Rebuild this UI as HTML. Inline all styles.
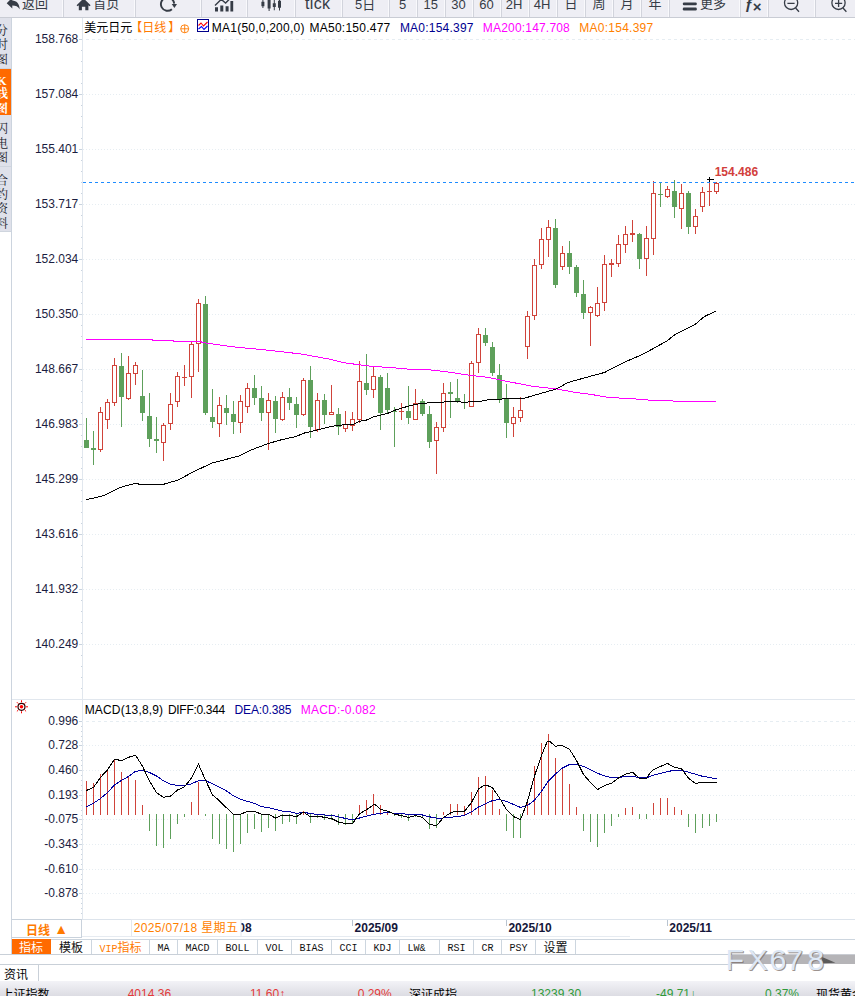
<!DOCTYPE html>
<html lang="zh-CN"><head><meta charset="utf-8"><title>美元日元 日线</title><style>
*{margin:0;padding:0;box-sizing:border-box}
html,body{width:855px;height:996px;overflow:hidden;background:#fff}
body{position:relative;font-family:"Liberation Sans","Noto Sans CJK SC",sans-serif;font-size:12px;color:#000}
#app{position:absolute;left:0;top:0;width:855px;height:996px;overflow:hidden;background:#fff}
.abs{position:absolute}
/* toolbar */
#toolbar{position:absolute;left:0;top:0;width:855px;height:18px;background:#eeeef4;border-bottom:1px solid #c9ccd4;overflow:hidden}
#toolbar .sep{position:absolute;top:0;width:2px;height:17px;border-left:1px solid #f9f9fc;border-right:1px solid #d2d4dc}
#toolbar .t{position:absolute;top:-6px;line-height:18px;height:18px;font-size:13px;color:#363c46;white-space:nowrap}
#toolbar svg{position:absolute;left:0;top:0}
/* sidebar */
#side{position:absolute;left:0;top:18px;width:12px;height:937px;border-right:1px solid #ccd4de;overflow:hidden;background:#fff}
#side .tab{position:absolute;left:0;width:12px;background:#dfe1ea;border-bottom:1px solid #cfd5de;overflow:hidden}
#side .tab.on{background:#ff6a00;color:#fff;border-bottom:none}
#side .tab span{position:absolute;left:-4px;width:12px;font-size:12px;line-height:12px;height:12px;text-align:center;color:#1a1d2c;font-family:"Liberation Serif","Noto Serif CJK SC",serif}
#side .tab.on span{color:#fff;font-weight:bold}
/* chart */
#chart{position:absolute;left:0;top:0}
#chart text{font-family:"Liberation Sans","Noto Sans CJK SC",sans-serif;font-size:12px}
#chart .yl{fill:#1b1d3f}
#chart .hp{fill:#d2403c;font-weight:bold}
#chart .hd{font-size:12px}
/* bottom */
#period{position:absolute;left:12px;top:919px;width:70px;height:19px;border:1px solid #c9d2dc;border-left:none;color:#ff7a00;font-weight:bold;font-size:12px}
#tabs{position:absolute;left:0;top:939px;width:855px;height:16px;border-bottom:1px solid #c9d0d8}
#tabs .tb{position:absolute;top:0;height:15px;border-right:1px solid #cdd6df;border-top:1px solid #cdd6df;text-align:center;line-height:16px;font-size:12px;color:#111;white-space:nowrap;overflow:hidden}
#tabs .tb.m{font-family:"Liberation Mono",monospace;font-size:10px;letter-spacing:0;line-height:17px}
#tabs .tb .sy{display:inline-block;transform:scaleY(1.16);transform-origin:50% 60%}
#tabs .tb.on{background:#ff6a00;color:#fff;border-color:#ff6a00}
#tabs .tb.vip{color:#ff7a00}
#status{position:absolute;left:0;top:981px;width:855px;height:15px;background:linear-gradient(#f3f3f7,#dcdce3);overflow:hidden}
#status span{position:absolute;top:5.6px;font-size:12px;line-height:14px;white-space:nowrap}
.rd{color:#e23a3a}.gn{color:#2f9a3a}
</style></head><body><div id="app">
<svg id="chart" width="855" height="996" viewBox="0 0 855 996"><line x1="82" y1="39.5" x2="855" y2="39.5" stroke="#e6edf2" stroke-dasharray="3 3" stroke-dashoffset="2"/>
<line x1="83" y1="94.5" x2="855" y2="94.5" stroke="#e6edf2" stroke-dasharray="1 2"/>
<line x1="83" y1="149.5" x2="855" y2="149.5" stroke="#e6edf2" stroke-dasharray="1 2"/>
<line x1="83" y1="204.5" x2="855" y2="204.5" stroke="#e6edf2" stroke-dasharray="1 2"/>
<line x1="83" y1="259.5" x2="855" y2="259.5" stroke="#e6edf2" stroke-dasharray="1 2"/>
<line x1="83" y1="314.5" x2="855" y2="314.5" stroke="#e6edf2" stroke-dasharray="1 2"/>
<line x1="83" y1="369.5" x2="855" y2="369.5" stroke="#e6edf2" stroke-dasharray="1 2"/>
<line x1="83" y1="424.5" x2="855" y2="424.5" stroke="#e6edf2" stroke-dasharray="1 2"/>
<line x1="83" y1="479.5" x2="855" y2="479.5" stroke="#e6edf2" stroke-dasharray="1 2"/>
<line x1="83" y1="534.5" x2="855" y2="534.5" stroke="#e6edf2" stroke-dasharray="1 2"/>
<line x1="83" y1="589.5" x2="855" y2="589.5" stroke="#e6edf2" stroke-dasharray="1 2"/>
<line x1="83" y1="644.5" x2="855" y2="644.5" stroke="#e6edf2" stroke-dasharray="1 2"/>
<line x1="82.5" y1="18" x2="82.5" y2="919" stroke="#e1e7ee"/>
<line x1="79" y1="39.5" x2="82" y2="39.5" stroke="#c9d3de"/>
<line x1="81" y1="50.5" x2="82" y2="50.5" stroke="#c9d3de"/>
<line x1="81" y1="61.5" x2="82" y2="61.5" stroke="#c9d3de"/>
<line x1="81" y1="72.5" x2="82" y2="72.5" stroke="#c9d3de"/>
<line x1="81" y1="83.5" x2="82" y2="83.5" stroke="#c9d3de"/>
<line x1="79" y1="94.5" x2="82" y2="94.5" stroke="#c9d3de"/>
<line x1="81" y1="105.5" x2="82" y2="105.5" stroke="#c9d3de"/>
<line x1="81" y1="116.5" x2="82" y2="116.5" stroke="#c9d3de"/>
<line x1="81" y1="127.5" x2="82" y2="127.5" stroke="#c9d3de"/>
<line x1="81" y1="138.5" x2="82" y2="138.5" stroke="#c9d3de"/>
<line x1="79" y1="149.5" x2="82" y2="149.5" stroke="#c9d3de"/>
<line x1="81" y1="160.5" x2="82" y2="160.5" stroke="#c9d3de"/>
<line x1="81" y1="171.5" x2="82" y2="171.5" stroke="#c9d3de"/>
<line x1="81" y1="182.5" x2="82" y2="182.5" stroke="#c9d3de"/>
<line x1="81" y1="193.5" x2="82" y2="193.5" stroke="#c9d3de"/>
<line x1="79" y1="204.5" x2="82" y2="204.5" stroke="#c9d3de"/>
<line x1="81" y1="215.5" x2="82" y2="215.5" stroke="#c9d3de"/>
<line x1="81" y1="226.5" x2="82" y2="226.5" stroke="#c9d3de"/>
<line x1="81" y1="237.5" x2="82" y2="237.5" stroke="#c9d3de"/>
<line x1="81" y1="248.5" x2="82" y2="248.5" stroke="#c9d3de"/>
<line x1="79" y1="259.5" x2="82" y2="259.5" stroke="#c9d3de"/>
<line x1="81" y1="270.5" x2="82" y2="270.5" stroke="#c9d3de"/>
<line x1="81" y1="281.5" x2="82" y2="281.5" stroke="#c9d3de"/>
<line x1="81" y1="292.5" x2="82" y2="292.5" stroke="#c9d3de"/>
<line x1="81" y1="303.5" x2="82" y2="303.5" stroke="#c9d3de"/>
<line x1="79" y1="314.5" x2="82" y2="314.5" stroke="#c9d3de"/>
<line x1="81" y1="325.5" x2="82" y2="325.5" stroke="#c9d3de"/>
<line x1="81" y1="336.5" x2="82" y2="336.5" stroke="#c9d3de"/>
<line x1="81" y1="347.5" x2="82" y2="347.5" stroke="#c9d3de"/>
<line x1="81" y1="358.5" x2="82" y2="358.5" stroke="#c9d3de"/>
<line x1="79" y1="369.5" x2="82" y2="369.5" stroke="#c9d3de"/>
<line x1="81" y1="380.5" x2="82" y2="380.5" stroke="#c9d3de"/>
<line x1="81" y1="391.5" x2="82" y2="391.5" stroke="#c9d3de"/>
<line x1="81" y1="402.5" x2="82" y2="402.5" stroke="#c9d3de"/>
<line x1="81" y1="413.5" x2="82" y2="413.5" stroke="#c9d3de"/>
<line x1="79" y1="424.5" x2="82" y2="424.5" stroke="#c9d3de"/>
<line x1="81" y1="435.5" x2="82" y2="435.5" stroke="#c9d3de"/>
<line x1="81" y1="446.5" x2="82" y2="446.5" stroke="#c9d3de"/>
<line x1="81" y1="457.5" x2="82" y2="457.5" stroke="#c9d3de"/>
<line x1="81" y1="468.5" x2="82" y2="468.5" stroke="#c9d3de"/>
<line x1="79" y1="479.5" x2="82" y2="479.5" stroke="#c9d3de"/>
<line x1="81" y1="490.5" x2="82" y2="490.5" stroke="#c9d3de"/>
<line x1="81" y1="501.5" x2="82" y2="501.5" stroke="#c9d3de"/>
<line x1="81" y1="512.5" x2="82" y2="512.5" stroke="#c9d3de"/>
<line x1="81" y1="523.5" x2="82" y2="523.5" stroke="#c9d3de"/>
<line x1="79" y1="534.5" x2="82" y2="534.5" stroke="#c9d3de"/>
<line x1="81" y1="545.5" x2="82" y2="545.5" stroke="#c9d3de"/>
<line x1="81" y1="556.5" x2="82" y2="556.5" stroke="#c9d3de"/>
<line x1="81" y1="567.5" x2="82" y2="567.5" stroke="#c9d3de"/>
<line x1="81" y1="578.5" x2="82" y2="578.5" stroke="#c9d3de"/>
<line x1="79" y1="589.5" x2="82" y2="589.5" stroke="#c9d3de"/>
<line x1="81" y1="600.5" x2="82" y2="600.5" stroke="#c9d3de"/>
<line x1="81" y1="611.5" x2="82" y2="611.5" stroke="#c9d3de"/>
<line x1="81" y1="622.5" x2="82" y2="622.5" stroke="#c9d3de"/>
<line x1="81" y1="633.5" x2="82" y2="633.5" stroke="#c9d3de"/>
<line x1="79" y1="644.5" x2="82" y2="644.5" stroke="#c9d3de"/>
<line x1="81" y1="655.5" x2="82" y2="655.5" stroke="#c9d3de"/>
<line x1="81" y1="666.5" x2="82" y2="666.5" stroke="#c9d3de"/>
<line x1="81" y1="677.5" x2="82" y2="677.5" stroke="#c9d3de"/>
<line x1="81" y1="688.5" x2="82" y2="688.5" stroke="#c9d3de"/>
<text x="78.3" y="42.9" text-anchor="end" class="yl">158.768</text>
<text x="78.3" y="97.9" text-anchor="end" class="yl">157.084</text>
<text x="78.3" y="152.9" text-anchor="end" class="yl">155.401</text>
<text x="78.3" y="207.9" text-anchor="end" class="yl">153.717</text>
<text x="78.3" y="262.9" text-anchor="end" class="yl">152.034</text>
<text x="78.3" y="317.9" text-anchor="end" class="yl">150.350</text>
<text x="78.3" y="372.9" text-anchor="end" class="yl">148.667</text>
<text x="78.3" y="427.9" text-anchor="end" class="yl">146.983</text>
<text x="78.3" y="482.9" text-anchor="end" class="yl">145.299</text>
<text x="78.3" y="537.9" text-anchor="end" class="yl">143.616</text>
<text x="78.3" y="592.9" text-anchor="end" class="yl">141.932</text>
<text x="78.3" y="647.9" text-anchor="end" class="yl">140.249</text>
<line x1="82" y1="721.5" x2="855" y2="721.5" stroke="#e6edf2" stroke-dasharray="3 3" stroke-dashoffset="2"/>
<line x1="79" y1="721.5" x2="82" y2="721.5" stroke="#c9d3de"/>
<line x1="81" y1="726.5" x2="82" y2="726.5" stroke="#c9d3de"/>
<line x1="81" y1="731.5" x2="82" y2="731.5" stroke="#c9d3de"/>
<line x1="81" y1="736.5" x2="82" y2="736.5" stroke="#c9d3de"/>
<line x1="81" y1="741.5" x2="82" y2="741.5" stroke="#c9d3de"/>
<text x="78.3" y="725.1" text-anchor="end" class="yl">0.996</text>
<line x1="83" y1="745.5" x2="855" y2="745.5" stroke="#e6edf2" stroke-dasharray="1 2"/>
<line x1="79" y1="745.5" x2="82" y2="745.5" stroke="#c9d3de"/>
<line x1="81" y1="750.5" x2="82" y2="750.5" stroke="#c9d3de"/>
<line x1="81" y1="755.5" x2="82" y2="755.5" stroke="#c9d3de"/>
<line x1="81" y1="760.5" x2="82" y2="760.5" stroke="#c9d3de"/>
<line x1="81" y1="765.5" x2="82" y2="765.5" stroke="#c9d3de"/>
<text x="78.3" y="749.1" text-anchor="end" class="yl">0.728</text>
<line x1="83" y1="770.5" x2="855" y2="770.5" stroke="#e6edf2" stroke-dasharray="1 2"/>
<line x1="79" y1="770.5" x2="82" y2="770.5" stroke="#c9d3de"/>
<line x1="81" y1="775.5" x2="82" y2="775.5" stroke="#c9d3de"/>
<line x1="81" y1="780.5" x2="82" y2="780.5" stroke="#c9d3de"/>
<line x1="81" y1="785.5" x2="82" y2="785.5" stroke="#c9d3de"/>
<line x1="81" y1="790.5" x2="82" y2="790.5" stroke="#c9d3de"/>
<text x="78.3" y="774.1" text-anchor="end" class="yl">0.460</text>
<line x1="83" y1="795.5" x2="855" y2="795.5" stroke="#e6edf2" stroke-dasharray="1 2"/>
<line x1="79" y1="795.5" x2="82" y2="795.5" stroke="#c9d3de"/>
<line x1="81" y1="800.5" x2="82" y2="800.5" stroke="#c9d3de"/>
<line x1="81" y1="805.5" x2="82" y2="805.5" stroke="#c9d3de"/>
<line x1="81" y1="810.5" x2="82" y2="810.5" stroke="#c9d3de"/>
<line x1="81" y1="815.5" x2="82" y2="815.5" stroke="#c9d3de"/>
<text x="78.3" y="799.1" text-anchor="end" class="yl">0.193</text>
<line x1="83" y1="819.5" x2="855" y2="819.5" stroke="#e6edf2" stroke-dasharray="1 2"/>
<line x1="79" y1="819.5" x2="82" y2="819.5" stroke="#c9d3de"/>
<line x1="81" y1="824.5" x2="82" y2="824.5" stroke="#c9d3de"/>
<line x1="81" y1="829.5" x2="82" y2="829.5" stroke="#c9d3de"/>
<line x1="81" y1="834.5" x2="82" y2="834.5" stroke="#c9d3de"/>
<line x1="81" y1="839.5" x2="82" y2="839.5" stroke="#c9d3de"/>
<text x="78.3" y="823.1" text-anchor="end" class="yl">-0.075</text>
<line x1="83" y1="844.5" x2="855" y2="844.5" stroke="#e6edf2" stroke-dasharray="1 2"/>
<line x1="79" y1="844.5" x2="82" y2="844.5" stroke="#c9d3de"/>
<line x1="81" y1="849.5" x2="82" y2="849.5" stroke="#c9d3de"/>
<line x1="81" y1="854.5" x2="82" y2="854.5" stroke="#c9d3de"/>
<line x1="81" y1="859.5" x2="82" y2="859.5" stroke="#c9d3de"/>
<line x1="81" y1="864.5" x2="82" y2="864.5" stroke="#c9d3de"/>
<text x="78.3" y="848.1" text-anchor="end" class="yl">-0.343</text>
<line x1="83" y1="869.5" x2="855" y2="869.5" stroke="#e6edf2" stroke-dasharray="1 2"/>
<line x1="79" y1="869.5" x2="82" y2="869.5" stroke="#c9d3de"/>
<line x1="81" y1="874.5" x2="82" y2="874.5" stroke="#c9d3de"/>
<line x1="81" y1="879.5" x2="82" y2="879.5" stroke="#c9d3de"/>
<line x1="81" y1="884.5" x2="82" y2="884.5" stroke="#c9d3de"/>
<line x1="81" y1="889.5" x2="82" y2="889.5" stroke="#c9d3de"/>
<text x="78.3" y="873.1" text-anchor="end" class="yl">-0.610</text>
<line x1="83" y1="893.5" x2="855" y2="893.5" stroke="#e6edf2" stroke-dasharray="1 2"/>
<line x1="79" y1="893.5" x2="82" y2="893.5" stroke="#c9d3de"/>
<line x1="81" y1="898.5" x2="82" y2="898.5" stroke="#c9d3de"/>
<line x1="81" y1="903.5" x2="82" y2="903.5" stroke="#c9d3de"/>
<line x1="81" y1="908.5" x2="82" y2="908.5" stroke="#c9d3de"/>
<line x1="81" y1="913.5" x2="82" y2="913.5" stroke="#c9d3de"/>
<text x="78.3" y="897.1" text-anchor="end" class="yl">-0.878</text>
<line x1="12" y1="699.5" x2="855" y2="699.5" stroke="#e1e7ee"/>
<g shape-rendering="crispEdges"><rect x="86" y="418" width="1" height="30" fill="#5ea05b"/><rect x="84" y="440" width="5" height="8" fill="#5ea05b"/><rect x="93" y="431" width="1" height="34" fill="#5ea05b"/><rect x="91" y="448" width="5" height="2" fill="#5ea05b"/><rect x="100" y="407" width="1" height="5" fill="#d0433a"/><rect x="100" y="450" width="1" height="2" fill="#d0433a"/><rect x="98.5" y="412.5" width="4" height="37" fill="#fff" stroke="#d0433a"/><rect x="107" y="399" width="1" height="3" fill="#d0433a"/><rect x="107" y="420" width="1" height="9" fill="#d0433a"/><rect x="105.5" y="402.5" width="4" height="17" fill="#fff" stroke="#d0433a"/><rect x="114" y="358" width="1" height="7" fill="#d0433a"/><rect x="114" y="403" width="1" height="3" fill="#d0433a"/><rect x="112.5" y="365.5" width="4" height="37" fill="#fff" stroke="#d0433a"/><rect x="121" y="353" width="1" height="74" fill="#5ea05b"/><rect x="119" y="366" width="5" height="31" fill="#5ea05b"/><rect x="128" y="356" width="1" height="17" fill="#d0433a"/><rect x="128" y="399" width="1" height="1" fill="#d0433a"/><rect x="126.5" y="373.5" width="4" height="25" fill="#fff" stroke="#d0433a"/><rect x="135" y="362" width="1" height="3" fill="#d0433a"/><rect x="135" y="374" width="1" height="11" fill="#d0433a"/><rect x="133.5" y="365.5" width="4" height="8" fill="#fff" stroke="#d0433a"/><rect x="142" y="370" width="1" height="51" fill="#5ea05b"/><rect x="140" y="396" width="5" height="17" fill="#5ea05b"/><rect x="149" y="393" width="1" height="54" fill="#5ea05b"/><rect x="147" y="416" width="5" height="23" fill="#5ea05b"/><rect x="156" y="417" width="1" height="36" fill="#5ea05b"/><rect x="154" y="439" width="5" height="2" fill="#5ea05b"/><rect x="163" y="423" width="1" height="2" fill="#d0433a"/><rect x="163" y="443" width="1" height="18" fill="#d0433a"/><rect x="161.5" y="425.5" width="4" height="17" fill="#fff" stroke="#d0433a"/><rect x="170" y="393" width="1" height="11" fill="#d0433a"/><rect x="170" y="424" width="1" height="6" fill="#d0433a"/><rect x="168.5" y="404.5" width="4" height="19" fill="#fff" stroke="#d0433a"/><rect x="177" y="372" width="1" height="4" fill="#d0433a"/><rect x="177" y="402" width="1" height="5" fill="#d0433a"/><rect x="175.5" y="376.5" width="4" height="25" fill="#fff" stroke="#d0433a"/><rect x="184" y="365" width="1" height="21" fill="#d0433a"/><rect x="182" y="377" width="5" height="1" fill="#d0433a"/><rect x="191" y="342" width="1" height="2" fill="#d0433a"/><rect x="191" y="377" width="1" height="21" fill="#d0433a"/><rect x="189.5" y="344.5" width="4" height="32" fill="#fff" stroke="#d0433a"/><rect x="198" y="299" width="1" height="4" fill="#d0433a"/><rect x="198" y="344" width="1" height="28" fill="#d0433a"/><rect x="196.5" y="303.5" width="4" height="40" fill="#fff" stroke="#d0433a"/><rect x="205" y="296" width="1" height="119" fill="#5ea05b"/><rect x="203" y="304" width="5" height="109" fill="#5ea05b"/><rect x="212" y="389" width="1" height="39" fill="#5ea05b"/><rect x="210" y="417" width="5" height="5" fill="#5ea05b"/><rect x="219" y="397" width="1" height="8" fill="#d0433a"/><rect x="219" y="424" width="1" height="13" fill="#d0433a"/><rect x="217.5" y="405.5" width="4" height="18" fill="#fff" stroke="#d0433a"/><rect x="226" y="395" width="1" height="30" fill="#5ea05b"/><rect x="224" y="408" width="5" height="5" fill="#5ea05b"/><rect x="233" y="401" width="1" height="33" fill="#5ea05b"/><rect x="231" y="414" width="5" height="8" fill="#5ea05b"/><rect x="240" y="395" width="1" height="6" fill="#d0433a"/><rect x="240" y="423" width="1" height="10" fill="#d0433a"/><rect x="238.5" y="401.5" width="4" height="21" fill="#fff" stroke="#d0433a"/><rect x="247" y="383" width="1" height="5" fill="#d0433a"/><rect x="247" y="407" width="1" height="6" fill="#d0433a"/><rect x="245.5" y="388.5" width="4" height="18" fill="#fff" stroke="#d0433a"/><rect x="254" y="375" width="1" height="30" fill="#5ea05b"/><rect x="252" y="388" width="5" height="10" fill="#5ea05b"/><rect x="261" y="386" width="1" height="35" fill="#5ea05b"/><rect x="259" y="398" width="5" height="15" fill="#5ea05b"/><rect x="268" y="393" width="1" height="7" fill="#d0433a"/><rect x="268" y="413" width="1" height="37" fill="#d0433a"/><rect x="266.5" y="400.5" width="4" height="12" fill="#fff" stroke="#d0433a"/><rect x="275" y="396" width="1" height="37" fill="#5ea05b"/><rect x="273" y="401" width="5" height="18" fill="#5ea05b"/><rect x="282" y="392" width="1" height="5" fill="#d0433a"/><rect x="282" y="420" width="1" height="1" fill="#d0433a"/><rect x="280.5" y="397.5" width="4" height="22" fill="#fff" stroke="#d0433a"/><rect x="289" y="388" width="1" height="22" fill="#5ea05b"/><rect x="287" y="397" width="5" height="6" fill="#5ea05b"/><rect x="296" y="397" width="1" height="31" fill="#5ea05b"/><rect x="294" y="404" width="5" height="11" fill="#5ea05b"/><rect x="303" y="378" width="1" height="2" fill="#d0433a"/><rect x="303" y="415" width="1" height="1" fill="#d0433a"/><rect x="301.5" y="380.5" width="4" height="34" fill="#fff" stroke="#d0433a"/><rect x="310" y="366" width="1" height="72" fill="#5ea05b"/><rect x="308" y="380" width="5" height="47" fill="#5ea05b"/><rect x="317" y="393" width="1" height="7" fill="#d0433a"/><rect x="317" y="430" width="1" height="2" fill="#d0433a"/><rect x="315.5" y="400.5" width="4" height="29" fill="#fff" stroke="#d0433a"/><rect x="324" y="394" width="1" height="30" fill="#5ea05b"/><rect x="322" y="400" width="5" height="15" fill="#5ea05b"/><rect x="331" y="385" width="1" height="27" fill="#d0433a"/><rect x="329.5" y="412.5" width="4" height="2" fill="#fff" stroke="#d0433a"/><rect x="338" y="408" width="1" height="27" fill="#5ea05b"/><rect x="336" y="414" width="5" height="13" fill="#5ea05b"/><rect x="345" y="411" width="1" height="13" fill="#d0433a"/><rect x="345" y="429" width="1" height="3" fill="#d0433a"/><rect x="343.5" y="424.5" width="4" height="4" fill="#fff" stroke="#d0433a"/><rect x="352" y="412" width="1" height="7" fill="#d0433a"/><rect x="352" y="426" width="1" height="5" fill="#d0433a"/><rect x="350.5" y="419.5" width="4" height="6" fill="#fff" stroke="#d0433a"/><rect x="359" y="361" width="1" height="20" fill="#d0433a"/><rect x="359" y="420" width="1" height="3" fill="#d0433a"/><rect x="357.5" y="381.5" width="4" height="38" fill="#fff" stroke="#d0433a"/><rect x="366" y="354" width="1" height="41" fill="#5ea05b"/><rect x="364" y="383" width="5" height="7" fill="#5ea05b"/><rect x="373" y="367" width="1" height="9" fill="#d0433a"/><rect x="373" y="390" width="1" height="8" fill="#d0433a"/><rect x="371.5" y="376.5" width="4" height="13" fill="#fff" stroke="#d0433a"/><rect x="380" y="375" width="1" height="55" fill="#5ea05b"/><rect x="378" y="377" width="5" height="36" fill="#5ea05b"/><rect x="387" y="373" width="1" height="40" fill="#5ea05b"/><rect x="385" y="388" width="5" height="22" fill="#5ea05b"/><rect x="394" y="407" width="1" height="40" fill="#5ea05b"/><rect x="392" y="411" width="5" height="1" fill="#5ea05b"/><rect x="401" y="403" width="1" height="17" fill="#d0433a"/><rect x="399" y="411" width="5" height="1" fill="#d0433a"/><rect x="408" y="386" width="1" height="38" fill="#5ea05b"/><rect x="406" y="411" width="5" height="7" fill="#5ea05b"/><rect x="415" y="389" width="1" height="14" fill="#d0433a"/><rect x="413.5" y="403.5" width="4" height="16" fill="#fff" stroke="#d0433a"/><rect x="422" y="399" width="1" height="17" fill="#5ea05b"/><rect x="420" y="401" width="5" height="13" fill="#5ea05b"/><rect x="429" y="406" width="1" height="42" fill="#5ea05b"/><rect x="427" y="414" width="5" height="28" fill="#5ea05b"/><rect x="436" y="422" width="1" height="5" fill="#d0433a"/><rect x="436" y="441" width="1" height="33" fill="#d0433a"/><rect x="434.5" y="427.5" width="4" height="13" fill="#fff" stroke="#d0433a"/><rect x="443" y="383" width="1" height="10" fill="#d0433a"/><rect x="443" y="428" width="1" height="4" fill="#d0433a"/><rect x="441.5" y="393.5" width="4" height="34" fill="#fff" stroke="#d0433a"/><rect x="450" y="382" width="1" height="36" fill="#5ea05b"/><rect x="448" y="392" width="5" height="2" fill="#5ea05b"/><rect x="457" y="379" width="1" height="24" fill="#5ea05b"/><rect x="455" y="398" width="5" height="4" fill="#5ea05b"/><rect x="464" y="394" width="1" height="15" fill="#5ea05b"/><rect x="462" y="402" width="5" height="1" fill="#5ea05b"/><rect x="471" y="361" width="1" height="2" fill="#d0433a"/><rect x="469.5" y="363.5" width="4" height="43" fill="#fff" stroke="#d0433a"/><rect x="478" y="328" width="1" height="6" fill="#d0433a"/><rect x="478" y="363" width="1" height="10" fill="#d0433a"/><rect x="476.5" y="334.5" width="4" height="28" fill="#fff" stroke="#d0433a"/><rect x="485" y="328" width="1" height="18" fill="#5ea05b"/><rect x="483" y="335" width="5" height="8" fill="#5ea05b"/><rect x="492" y="342" width="1" height="34" fill="#5ea05b"/><rect x="490" y="347" width="5" height="26" fill="#5ea05b"/><rect x="499" y="364" width="1" height="39" fill="#5ea05b"/><rect x="497" y="375" width="5" height="24" fill="#5ea05b"/><rect x="506" y="384" width="1" height="54" fill="#5ea05b"/><rect x="504" y="398" width="5" height="25" fill="#5ea05b"/><rect x="513" y="407" width="1" height="10" fill="#d0433a"/><rect x="513" y="424" width="1" height="13" fill="#d0433a"/><rect x="511.5" y="417.5" width="4" height="6" fill="#fff" stroke="#d0433a"/><rect x="520" y="397" width="1" height="13" fill="#d0433a"/><rect x="520" y="418" width="1" height="4" fill="#d0433a"/><rect x="518.5" y="410.5" width="4" height="7" fill="#fff" stroke="#d0433a"/><rect x="527" y="311" width="1" height="5" fill="#d0433a"/><rect x="527" y="347" width="1" height="12" fill="#d0433a"/><rect x="525.5" y="316.5" width="4" height="30" fill="#fff" stroke="#d0433a"/><rect x="534" y="259" width="1" height="6" fill="#d0433a"/><rect x="534" y="316" width="1" height="4" fill="#d0433a"/><rect x="532.5" y="265.5" width="4" height="50" fill="#fff" stroke="#d0433a"/><rect x="541" y="228" width="1" height="11" fill="#d0433a"/><rect x="541" y="265" width="1" height="4" fill="#d0433a"/><rect x="539.5" y="239.5" width="4" height="25" fill="#fff" stroke="#d0433a"/><rect x="548" y="220" width="1" height="7" fill="#d0433a"/><rect x="548" y="240" width="1" height="17" fill="#d0433a"/><rect x="546.5" y="227.5" width="4" height="12" fill="#fff" stroke="#d0433a"/><rect x="555" y="219" width="1" height="69" fill="#5ea05b"/><rect x="553" y="228" width="5" height="57" fill="#5ea05b"/><rect x="562" y="246" width="1" height="7" fill="#d0433a"/><rect x="562" y="267" width="1" height="3" fill="#d0433a"/><rect x="560.5" y="253.5" width="4" height="13" fill="#fff" stroke="#d0433a"/><rect x="569" y="241" width="1" height="33" fill="#5ea05b"/><rect x="567" y="253" width="5" height="14" fill="#5ea05b"/><rect x="576" y="265" width="1" height="32" fill="#5ea05b"/><rect x="574" y="267" width="5" height="26" fill="#5ea05b"/><rect x="583" y="280" width="1" height="39" fill="#5ea05b"/><rect x="581" y="294" width="5" height="19" fill="#5ea05b"/><rect x="590" y="306" width="1" height="1" fill="#d0433a"/><rect x="590" y="313" width="1" height="33" fill="#d0433a"/><rect x="588.5" y="307.5" width="4" height="5" fill="#fff" stroke="#d0433a"/><rect x="597" y="287" width="1" height="16" fill="#d0433a"/><rect x="597" y="316" width="1" height="1" fill="#d0433a"/><rect x="595.5" y="303.5" width="4" height="12" fill="#fff" stroke="#d0433a"/><rect x="604" y="255" width="1" height="9" fill="#d0433a"/><rect x="604" y="303" width="1" height="8" fill="#d0433a"/><rect x="602.5" y="264.5" width="4" height="38" fill="#fff" stroke="#d0433a"/><rect x="611" y="259" width="1" height="18" fill="#d0433a"/><rect x="609" y="263" width="5" height="2" fill="#d0433a"/><rect x="618" y="235" width="1" height="9" fill="#d0433a"/><rect x="618" y="264" width="1" height="3" fill="#d0433a"/><rect x="616.5" y="244.5" width="4" height="19" fill="#fff" stroke="#d0433a"/><rect x="625" y="226" width="1" height="8" fill="#d0433a"/><rect x="625" y="245" width="1" height="8" fill="#d0433a"/><rect x="623.5" y="234.5" width="4" height="10" fill="#fff" stroke="#d0433a"/><rect x="632" y="220" width="1" height="22" fill="#d0433a"/><rect x="630" y="233" width="5" height="2" fill="#d0433a"/><rect x="639" y="233" width="1" height="36" fill="#5ea05b"/><rect x="637" y="234" width="5" height="25" fill="#5ea05b"/><rect x="646" y="226" width="1" height="12" fill="#d0433a"/><rect x="646" y="259" width="1" height="17" fill="#d0433a"/><rect x="644.5" y="238.5" width="4" height="20" fill="#fff" stroke="#d0433a"/><rect x="653" y="181" width="1" height="12" fill="#d0433a"/><rect x="653" y="239" width="1" height="16" fill="#d0433a"/><rect x="651.5" y="193.5" width="4" height="45" fill="#fff" stroke="#d0433a"/><rect x="660" y="183" width="1" height="24" fill="#5ea05b"/><rect x="658" y="194" width="5" height="1" fill="#5ea05b"/><rect x="667" y="186" width="1" height="3" fill="#d0433a"/><rect x="667" y="197" width="1" height="1" fill="#d0433a"/><rect x="665.5" y="189.5" width="4" height="7" fill="#fff" stroke="#d0433a"/><rect x="674" y="180" width="1" height="38" fill="#5ea05b"/><rect x="672" y="191" width="5" height="16" fill="#5ea05b"/><rect x="681" y="184" width="1" height="9" fill="#d0433a"/><rect x="681" y="209" width="1" height="20" fill="#d0433a"/><rect x="679.5" y="193.5" width="4" height="15" fill="#fff" stroke="#d0433a"/><rect x="688" y="191" width="1" height="43" fill="#5ea05b"/><rect x="686" y="193" width="5" height="34" fill="#5ea05b"/><rect x="695" y="209" width="1" height="7" fill="#d0433a"/><rect x="695" y="227" width="1" height="7" fill="#d0433a"/><rect x="693.5" y="216.5" width="4" height="10" fill="#fff" stroke="#d0433a"/><rect x="702" y="187" width="1" height="5" fill="#d0433a"/><rect x="702" y="207" width="1" height="5" fill="#d0433a"/><rect x="700.5" y="192.5" width="4" height="14" fill="#fff" stroke="#d0433a"/><rect x="709" y="180" width="1" height="26" fill="#d0433a"/><rect x="707" y="191" width="5" height="1" fill="#d0433a"/><rect x="716" y="182" width="1" height="1" fill="#d0433a"/><rect x="716" y="192" width="1" height="2" fill="#d0433a"/><rect x="714.5" y="183.5" width="4" height="8" fill="#fff" stroke="#d0433a"/></g>
<polyline fill="none" stroke="#ff00ff" stroke-width="1" shape-rendering="crispEdges" points="86.0,339.5 152.0,339.5 153.0,340.5 173.0,340.5 174.0,341.5 201.0,341.5 202.0,342.5 209.0,343.5 216.0,344.5 223.0,345.5 232.0,346.7 270.0,350.4 302.0,354.1 331.0,359.4 342.5,362.5 360.0,364.9 374.0,366.6 390.0,367.4 412.0,369.5 426.0,369.5 447.0,371.8 469.5,375.3 488.0,377.3 500.0,380.0 518.0,383.5 534.0,386.5 556.5,388.9 575.0,392.4 590.0,394.2 608.0,397.4 622.7,398.2 637.5,399.1 650.6,400.2 678.4,401.2 715.8,401.2"/>
<polyline fill="none" stroke="#000" stroke-width="1" shape-rendering="crispEdges" points="86.1,499.6 93.7,498.1 105.4,495.0 119.4,487.7 128.8,485.0 135.8,483.3 139.3,484.2 163.9,484.2 178.7,479.8 192.7,472.1 205.3,466.2 212.4,463.0 239.0,456.0 250.0,450.4 268.4,443.5 282.3,439.5 295.2,436.8 304.5,433.0 317.4,429.9 331.4,426.4 336.7,425.7 345.5,424.5 353.7,424.3 359.5,421.4 367.0,419.9 373.5,416.9 380.4,415.2 388.2,413.2 394.5,410.3 401.5,408.2 408.5,406.1 415.4,404.4 424.4,403.1 440.0,402.5 447.0,401.6 460.0,401.6 462.4,402.5 467.0,402.5 469.5,401.6 481.0,401.3 489.0,399.5 502.0,399.0 504.5,398.6 523.0,398.6 556.5,388.9 568.0,382.5 587.0,377.2 604.7,372.4 622.7,363.0 644.0,353.7 667.0,340.9 675.1,334.4 694.8,324.6 704.6,316.4 715.8,311.1"/>
<line x1="83" y1="182.5" x2="855" y2="182.5" stroke="#1e8cff" stroke-dasharray="3 3" shape-rendering="crispEdges"/>
<path d="M707 179.5h7M709.5 177v5" stroke="#000" stroke-width="1" shape-rendering="crispEdges"/>
<text x="714.7" y="175.8" class="hp">154.486</text>
<g shape-rendering="crispEdges"><rect x="86" y="781" width="1" height="34" fill="#d0433a"/><rect x="93" y="783" width="1" height="32" fill="#d0433a"/><rect x="100" y="774" width="1" height="41" fill="#d0433a"/><rect x="107" y="770" width="1" height="45" fill="#d0433a"/><rect x="114" y="760" width="1" height="55" fill="#d0433a"/><rect x="121" y="772" width="1" height="43" fill="#d0433a"/><rect x="128" y="776" width="1" height="39" fill="#d0433a"/><rect x="135" y="780" width="1" height="35" fill="#d0433a"/><rect x="142" y="805" width="1" height="10" fill="#d0433a"/><rect x="149" y="814" width="1" height="17" fill="#5ea05b"/><rect x="156" y="814" width="1" height="32" fill="#5ea05b"/><rect x="163" y="814" width="1" height="34" fill="#5ea05b"/><rect x="170" y="814" width="1" height="25" fill="#5ea05b"/><rect x="177" y="814" width="1" height="10" fill="#5ea05b"/><rect x="184" y="814" width="1" height="3" fill="#5ea05b"/><rect x="191" y="802" width="1" height="13" fill="#d0433a"/><rect x="198" y="782" width="1" height="33" fill="#d0433a"/><rect x="205" y="814" width="1" height="2" fill="#5ea05b"/><rect x="212" y="814" width="1" height="25" fill="#5ea05b"/><rect x="219" y="814" width="1" height="30" fill="#5ea05b"/><rect x="226" y="814" width="1" height="35" fill="#5ea05b"/><rect x="233" y="814" width="1" height="38" fill="#5ea05b"/><rect x="240" y="814" width="1" height="30" fill="#5ea05b"/><rect x="247" y="814" width="1" height="19" fill="#5ea05b"/><rect x="254" y="814" width="1" height="15" fill="#5ea05b"/><rect x="261" y="814" width="1" height="18" fill="#5ea05b"/><rect x="268" y="814" width="1" height="14" fill="#5ea05b"/><rect x="275" y="814" width="1" height="17" fill="#5ea05b"/><rect x="282" y="814" width="1" height="10" fill="#5ea05b"/><rect x="289" y="814" width="1" height="8" fill="#5ea05b"/><rect x="296" y="814" width="1" height="10" fill="#5ea05b"/><rect x="303" y="811" width="1" height="4" fill="#d0433a"/><rect x="310" y="814" width="1" height="9" fill="#5ea05b"/><rect x="317" y="814" width="1" height="4" fill="#5ea05b"/><rect x="324" y="814" width="1" height="6" fill="#5ea05b"/><rect x="331" y="814" width="1" height="6" fill="#5ea05b"/><rect x="338" y="814" width="1" height="11" fill="#5ea05b"/><rect x="345" y="814" width="1" height="11" fill="#5ea05b"/><rect x="352" y="814" width="1" height="9" fill="#5ea05b"/><rect x="359" y="805" width="1" height="10" fill="#d0433a"/><rect x="366" y="800" width="1" height="15" fill="#d0433a"/><rect x="373" y="794" width="1" height="21" fill="#d0433a"/><rect x="380" y="805" width="1" height="10" fill="#d0433a"/><rect x="387" y="811" width="1" height="4" fill="#d0433a"/><rect x="394" y="814" width="1" height="2" fill="#5ea05b"/><rect x="401" y="814" width="1" height="4" fill="#5ea05b"/><rect x="408" y="814" width="1" height="7" fill="#5ea05b"/><rect x="415" y="814" width="1" height="3" fill="#5ea05b"/><rect x="422" y="814" width="1" height="4" fill="#5ea05b"/><rect x="429" y="814" width="1" height="15" fill="#5ea05b"/><rect x="436" y="814" width="1" height="14" fill="#5ea05b"/><rect x="443" y="812" width="1" height="3" fill="#d0433a"/><rect x="450" y="804" width="1" height="11" fill="#d0433a"/><rect x="457" y="804" width="1" height="11" fill="#d0433a"/><rect x="464" y="806" width="1" height="9" fill="#d0433a"/><rect x="471" y="792" width="1" height="23" fill="#d0433a"/><rect x="478" y="777" width="1" height="38" fill="#d0433a"/><rect x="485" y="776" width="1" height="39" fill="#d0433a"/><rect x="492" y="790" width="1" height="25" fill="#d0433a"/><rect x="499" y="809" width="1" height="6" fill="#d0433a"/><rect x="506" y="814" width="1" height="17" fill="#5ea05b"/><rect x="513" y="814" width="1" height="24" fill="#5ea05b"/><rect x="520" y="814" width="1" height="24" fill="#5ea05b"/><rect x="527" y="802" width="1" height="13" fill="#d0433a"/><rect x="534" y="766" width="1" height="49" fill="#d0433a"/><rect x="541" y="743" width="1" height="72" fill="#d0433a"/><rect x="548" y="734" width="1" height="81" fill="#d0433a"/><rect x="555" y="758" width="1" height="57" fill="#d0433a"/><rect x="562" y="767" width="1" height="48" fill="#d0433a"/><rect x="569" y="784" width="1" height="31" fill="#d0433a"/><rect x="576" y="807" width="1" height="8" fill="#d0433a"/><rect x="583" y="814" width="1" height="17" fill="#5ea05b"/><rect x="590" y="814" width="1" height="28" fill="#5ea05b"/><rect x="597" y="814" width="1" height="33" fill="#5ea05b"/><rect x="604" y="814" width="1" height="19" fill="#5ea05b"/><rect x="611" y="814" width="1" height="12" fill="#5ea05b"/><rect x="618" y="814" width="1" height="3" fill="#5ea05b"/><rect x="625" y="808" width="1" height="7" fill="#d0433a"/><rect x="632" y="807" width="1" height="8" fill="#d0433a"/><rect x="639" y="814" width="1" height="5" fill="#5ea05b"/><rect x="646" y="814" width="1" height="5" fill="#5ea05b"/><rect x="653" y="803" width="1" height="12" fill="#d0433a"/><rect x="660" y="798" width="1" height="17" fill="#d0433a"/><rect x="667" y="798" width="1" height="17" fill="#d0433a"/><rect x="674" y="807" width="1" height="8" fill="#d0433a"/><rect x="681" y="810" width="1" height="5" fill="#d0433a"/><rect x="688" y="814" width="1" height="13" fill="#5ea05b"/><rect x="695" y="814" width="1" height="19" fill="#5ea05b"/><rect x="702" y="814" width="1" height="14" fill="#5ea05b"/><rect x="709" y="814" width="1" height="12" fill="#5ea05b"/><rect x="716" y="814" width="1" height="8" fill="#5ea05b"/></g>
<polyline fill="none" stroke="#0000a0" stroke-width="1" shape-rendering="crispEdges" points="86.4,806.9 93.5,803.2 100.5,798.5 107.5,792.6 114.5,785.0 121.5,780.4 128.5,776.5 135.6,771.3 142.5,770.4 149.5,772.5 156.5,776.0 163.5,780.9 170.5,784.4 177.5,785.3 184.5,785.3 191.5,783.9 198.5,780.6 205.6,780.6 212.6,783.9 219.5,787.4 226.5,790.9 233.5,795.9 240.5,799.4 247.6,801.4 254.6,803.5 261.6,806.6 268.5,807.6 275.5,809.5 282.5,811.2 289.5,811.5 296.5,813.5 303.4,812.3 310.4,813.5 317.4,814.4 324.5,815.0 331.5,815.4 338.5,816.8 345.5,818.5 352.5,819.7 359.5,818.0 366.5,816.2 373.5,814.4 380.5,813.3 387.6,812.3 394.5,813.5 401.5,813.5 408.5,814.4 415.5,814.4 422.5,815.0 429.5,816.8 436.6,818.2 443.6,818.0 450.6,817.3 457.6,816.5 464.5,815.4 471.5,811.9 478.5,807.0 485.5,803.9 492.5,800.5 499.5,799.6 506.4,801.3 513.5,804.5 520.5,807.4 527.5,805.4 534.5,800.2 541.5,791.3 548.5,780.9 555.5,773.9 562.5,768.0 569.5,764.5 576.4,764.5 583.5,766.3 590.5,769.8 597.5,773.3 604.5,775.8 611.5,777.6 618.5,777.4 625.6,776.6 632.5,776.7 639.5,777.3 646.6,777.7 653.5,775.1 660.5,773.4 667.5,771.6 674.5,770.2 681.5,770.5 688.5,772.2 695.6,774.3 702.5,776.3 709.5,777.5 716.5,778.7"/>
<polyline fill="none" stroke="#000" stroke-width="1" shape-rendering="crispEdges" points="86.4,790.5 93.5,787.4 100.5,777.4 107.5,769.8 114.5,759.3 117.0,759.3 119.4,760.5 122.4,760.5 128.5,757.3 135.6,755.2 142.5,766.3 149.5,780.9 156.5,792.6 163.5,797.3 170.5,796.1 177.5,790.0 184.5,786.8 191.5,778.0 198.5,764.2 205.6,780.4 212.6,795.0 219.5,800.8 226.5,807.8 233.5,814.3 240.5,814.3 247.6,811.3 254.6,811.3 261.6,814.3 268.5,814.3 275.5,818.0 282.5,815.0 289.5,815.0 296.5,816.8 303.4,812.1 310.4,816.8 317.4,816.0 324.5,817.4 331.5,818.5 338.5,822.0 345.5,823.6 352.5,823.6 359.5,813.7 366.5,809.8 373.5,804.9 375.4,804.9 380.5,809.2 387.6,811.2 394.5,814.2 401.5,815.6 408.5,817.4 415.5,815.6 422.5,817.4 429.5,824.4 436.6,825.6 443.6,817.4 450.6,812.9 454.9,811.3 464.5,811.3 471.5,802.5 478.5,789.1 484.1,785.0 486.4,785.0 492.5,787.9 499.5,797.8 506.4,809.5 513.5,816.5 520.5,819.8 527.5,801.3 534.5,775.9 541.5,755.5 547.2,741.7 550.1,741.7 555.5,746.4 561.2,745.2 569.5,749.3 576.4,760.4 583.5,774.4 590.5,782.6 597.5,789.6 604.5,785.6 611.5,783.2 618.5,778.0 625.6,774.2 632.5,772.2 639.5,778.4 646.6,778.4 650.0,772.8 653.5,769.6 660.5,766.4 667.5,763.5 674.5,767.3 681.5,768.7 688.5,778.1 695.6,783.6 699.8,782.4 716.5,782.4"/>
<text x="84.3" y="32.2" class="hd" textLength="48">美元日元</text>
<text x="130.3 142.3 154.3 168.3" y="32.2" class="hd" fill="#ff7a00">【日线】</text>
<g fill="none" stroke="#ff7a00" stroke-width="0.9"><circle cx="184.7" cy="28.8" r="4"/><path d="M180.7 28.8h8M184.7 24.8v8"/></g>
<g shape-rendering="crispEdges"><rect x="197.5" y="19.5" width="11" height="12" fill="#fff" stroke="#00008b" stroke-width="1.4"/></g>
<path d="M198.5 25.5 201 23 203.5 26 207.5 22" fill="none" stroke="#f00" stroke-width="1.1"/>
<path d="M198.5 29 201.5 26.5 204 29.5 207.5 26" fill="none" stroke="#00f" stroke-width="1.1"/>
<text x="211.8" y="32" class="hd" textLength="92.6">MA1(50,0,200,0)</text>
<text x="309.5" y="32" class="hd" textLength="80.8">MA50:150.477</text>
<text x="399.9" y="32" class="hd" fill="#000090" textLength="73.6">MA0:154.397</text>
<text x="482.8" y="32" class="hd" fill="#ff00ff" textLength="87">MA200:147.708</text>
<text x="579.3" y="32" class="hd" fill="#ff8000" textLength="73.9">MA0:154.397</text>
<text x="84.7" y="714" class="hd" textLength="78.4">MACD(13,8,9)</text>
<text x="168" y="714" class="hd" textLength="57.2">DIFF:0.344</text>
<text x="234.6" y="714" class="hd" fill="#000090" textLength="56.9">DEA:0.385</text>
<text x="300.8" y="714" class="hd" fill="#ff00ff" textLength="74.9">MACD:-0.082</text>
<g stroke="#f00" stroke-width="1" fill="none"><circle cx="21.5" cy="706.8" r="3.5" stroke="#2a0000" stroke-width="1.2"/><circle cx="21.5" cy="706.8" r="1.8" fill="#f00" stroke="none"/>
<path d="M21.5 700.3v2M21.5 711.3v2M15 706.8h2M26 706.8h2M16.9 702.2l1.4 1.4M24.7 710l1.4 1.4M16.9 711.4l1.4-1.4M24.7 703.6l1.4-1.4"/></g>

<line x1="82" y1="919.5" x2="855" y2="919.5" stroke="#dde4ec"/>
<line x1="82" y1="936.5" x2="630" y2="936.5" stroke="#e6ebf1"/>
<g stroke="#b9c4d0"><path d="M206.5 920v6M352.5 920v6M506.5 920v6M667.5 920v6"/></g>
<g font-weight="bold" fill="#15173a"><text x="208.3" y="932.3">2025/08</text><text x="354.6" y="932.3">2025/09</text><text x="508.4" y="932.3">2025/10</text><text x="669.3" y="932.3">2025/11</text></g>
<rect x="131.5" y="919.5" width="109.5" height="17" fill="#fff" stroke="#e4e8ee"/>
<text x="133.7" y="932.3" fill="#ff7f00" textLength="104.2">2025/07/18 星期五</text>
</svg>
<div id="toolbar"><i class="sep" style="left:62px"></i><i class="sep" style="left:134px"></i><i class="sep" style="left:200px"></i><i class="sep" style="left:246px"></i><i class="sep" style="left:294px"></i><i class="sep" style="left:341px"></i><i class="sep" style="left:388px"></i><i class="sep" style="left:416px"></i><i class="sep" style="left:444px"></i><i class="sep" style="left:472px"></i><i class="sep" style="left:500px"></i><i class="sep" style="left:528px"></i><i class="sep" style="left:556px"></i><i class="sep" style="left:584px"></i><i class="sep" style="left:612px"></i><i class="sep" style="left:640px"></i><i class="sep" style="left:668px"></i><i class="sep" style="left:739px"></i><i class="sep" style="left:767px"></i><i class="sep" style="left:814px"></i><span class="t" style="left:22px;top:-5px">返回</span><span class="t" style="left:93.2px;top:-5px">首页</span><span class="t" style="left:305px;font-size:16px;top:-5px;letter-spacing:.35px">tick</span><span class="t" style="left:355px;top:-4.5px">5日</span><span class="t" style="left:399px;top:-4px">5</span><span class="t" style="left:423.5px;top:-4px">15</span><span class="t" style="left:451.3px;top:-4px">30</span><span class="t" style="left:479.3px;top:-4px">60</span><span class="t" style="left:505.8px;top:-4px">2H</span><span class="t" style="left:533.8px;top:-4px">4H</span><span class="t" style="left:564.5px;top:-5px">日</span><span class="t" style="left:592.5px;top:-5px">周</span><span class="t" style="left:620.5px;top:-5px">月</span><span class="t" style="left:648.5px;top:-5px">年</span><span class="t" style="left:700px;top:-5px">更多</span><span class="t" style="left:744.8px;font-weight:bold;font-size:15px;top:-5.5px">ƒ</span><span class="t" style="left:752.8px;font-weight:bold;font-size:15px;top:-2.2px">×</span><svg width="855" height="18" viewBox="0 0 855 18" fill="#363c46">
<path d="M6.7 3.2 12.3-2.4V.6C16.5.8 19.4 3.6 19.7 9.2 18 6.2 15.8 5.4 12.3 5.4V8.6Z"/>
<path d="M76.6 5.2 83.6-1.6 90.6 5.2 89.6 6.3 88.4 5.2V10.3H85.3V6.8H81.9V10.3H78.8V5.2L77.6 6.3Z"/>
<path d="M171.9 9.2A6.65 6.65 0 1 1 174.2 3.6" fill="none" stroke="#363c46" stroke-width="1.9"/>
<path d="M171.7 3.9H177L174.4 7.9Z"/>
<path d="M215 11.4V7.2h3v4.2ZM220.3 11.4V5.4h3v6ZM225.6 11.4V6.2h3v5.2ZM230.4 11.4V1h2.8v10.4Z"/>
<path d="M215 5.4 221.2-.6 225.6 3 232-3.4" fill="none" stroke="#363c46" stroke-width="1.4"/>
<path d="M261.4 1.8h3v4.4h-3ZM262.4-3h1v11h-1ZM267.6-3h3v11.6h-3ZM268.6 8h1v3h-1ZM272.8 3.2h3v3.8h-3ZM273.8-3h1v13.2h-1ZM278 .8h3v7h-3ZM279 -3h1v13.6h-1Z"/>
<rect x="682.8" y="2.4" width="14" height="2.8" rx="1.2"/><rect x="682.8" y="7.6" width="14" height="2.8" rx="1.2"/><rect x="682.8" y="-2.8" width="14" height="2.8" rx="1.2"/>
<g fill="none" stroke="#363c46" stroke-width="1.3"><circle cx="791.1" cy="2.9" r="6.6"/><path d="M787.4 3.4h7.2M795.6 8 799 11.8"/>
<circle cx="838.5" cy="2.9" r="6.6"/><path d="M835 3.4h7.2M838.6 -.2v7.2M843 8 846.4 11.8"/></g>
</svg></div>
<div id="side"><div class="tab" style="top:0px;height:51px"><span style="top:7px">分</span><span style="top:21px">时</span><span style="top:35.5px">图</span></div><div class="tab on" style="top:51px;height:46px"><span style="top:5.5px">K</span><span style="top:19px">线</span><span style="top:33.5px">图</span></div><div class="tab" style="top:97px;height:52px"><span style="top:8px">闪</span><span style="top:22.5px">电</span><span style="top:36.5px">图</span></div><div class="tab" style="top:149px;height:65px"><span style="top:7.5px">合</span><span style="top:21.5px">约</span><span style="top:36px">资</span><span style="top:50.5px">料</span></div></div>
<div id="period"><span class="abs" style="left:14px;top:3.6px;line-height:14px">日线</span><span class="abs" style="left:42.3px;top:2px;line-height:14px;font-size:14px;font-weight:normal">▲</span></div>
<div id="tabs"><div class="tb on" style="left:12px;width:39px">指标</div><div class="tb" style="left:51px;width:41px">模板</div><div class="tb vip" style="left:92px;width:58px"><span style="font-family:'Liberation Mono',monospace;font-size:10px;display:inline-block;transform:scaleY(1.16)">VIP</span>指标</div><div class="tb m" style="left:150px;width:28px"><span class="sy">MA</span></div><div class="tb m" style="left:178px;width:40px"><span class="sy">MACD</span></div><div class="tb m" style="left:218px;width:40px"><span class="sy">BOLL</span></div><div class="tb m" style="left:258px;width:34px"><span class="sy">VOL</span></div><div class="tb m" style="left:292px;width:40px"><span class="sy">BIAS</span></div><div class="tb m" style="left:332px;width:34px"><span class="sy">CCI</span></div><div class="tb m" style="left:366px;width:34px"><span class="sy">KDJ</span></div><div class="tb m" style="left:400px;width:40px;padding-right:6px"><span class="sy">LW&amp;</span></div><div class="tb m" style="left:440px;width:34px"><span class="sy">RSI</span></div><div class="tb m" style="left:474px;width:28px"><span class="sy">CR</span></div><div class="tb m" style="left:502px;width:34px"><span class="sy">PSY</span></div><div class="tb" style="left:536px;width:40px">设置</div><div class="tb" style="left:576px;width:279px;border-right:none"></div></div>

<div class="abs" style="left:0;top:964px;width:732px;height:1px;background:#c9d0d8"></div>
<div class="abs" style="left:0;top:965px;width:39px;height:17px;border-right:1px solid #c9d0d8;font-size:12px;line-height:21px;padding-left:4px">资讯</div>
<div class="abs" style="left:732px;top:954px;width:123px;height:10px;background:#b5b4b7;border-top:1px solid #c9ccd2"></div>
<svg class="abs" style="left:700px;top:940px" width="155" height="42" viewBox="700 940 155 42"><path d="M821 956.6 835.4 962.7 823 963.2Z" fill="#5a5a5a"/>
<g font-family="Liberation Sans,sans-serif" font-size="30.4" >
<text x="726.4 748.4 770.4 787 808.3" y="971.4" fill="#7d6f6a" opacity=".75">FX678</text>
<text x="725.4 747.4 769.4 786 807.3" y="970.4" fill="#dde8f6">FX678</text></g></svg>
<div id="status">
<span style="left:1.6px;top:6.8px">上证指数</span><span class="rd" style="left:127.7px">4014.36</span><span class="rd" style="left:250px">11.60↑</span>
<span class="rd" style="left:357.7px">0.29%</span><span style="left:409px;top:6.8px">深证成指</span><span class="gn" style="left:531px">13239.30</span>
<span class="gn" style="left:656px">-49.71↓</span><span class="gn" style="left:765px">0.37%</span><span style="left:816px;top:6.8px">现货黄金</span>
</div>
</div></body></html>
